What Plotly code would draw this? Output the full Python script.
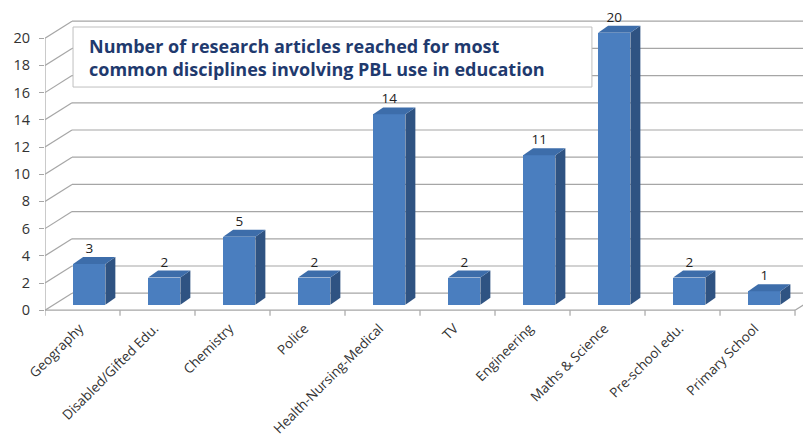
import plotly.graph_objects as go

categories = ["Geography", "Disabled/Gifted Edu.", "Chemistry", "Police",
              "Health-Nursing-Medical", "TV", "Engineering", "Maths & Science",
              "Pre-school edu.", "Primary School"]
values = [3, 2, 5, 2, 14, 2, 11, 20, 2, 1]
y_ticks = list(range(0, 21, 2))
title_lines = ["Number of research articles reached for most",
               "common disciplines involving PBL use in education"]

# 3D look parameters (style only)
BAR_OFF = 0.09      # shift of bars within category
LABEL_OFF = -0.04   # shift of category labels
BAR_W = 0.43
BASE = 0.4
DX, DY = 0.133, 0.51    # bar depth
WX, WY = 0.36, 1.25     # wall depth
XR = [-0.5, 9.713]
YR = [-0.5, 22]

FRONT = "#4A7EBF"
SIDE = "#2F5382"
TOP = "#3D6DAA"
GRID = "#A6A6A6"

cat_x = list(range(len(categories)))
xs = [i + BAR_OFF for i in cat_x]

fig = go.Figure()
fig.add_trace(go.Bar(
    x=xs, y=values, base=[BASE] * len(values), width=BAR_W,
    marker=dict(color=FRONT, line=dict(width=0)), showlegend=False,
    hoverinfo="skip"))
fig.add_trace(go.Scatter(
    x=xs, y=[v + BASE + DY + 0.05 for v in values], mode="text",
    text=[str(v) for v in values], textposition="top center",
    textfont=dict(family="Open Sans", size=13.5, color="#222"),
    showlegend=False, hoverinfo="skip", cliponaxis=False))

shapes = []
# back wall gridlines + left wall diagonals
for v in y_ticks:
    shapes.append(dict(type="line", xref="x", yref="y", x0=-0.5 + WX, x1=XR[1] + 0.5,
                       y0=v + WY, y1=v + WY, line=dict(color=GRID, width=1.2), layer="below"))
    shapes.append(dict(type="line", xref="x", yref="y", x0=-0.5, x1=-0.5 + WX,
                       y0=v, y1=v + WY, line=dict(color=GRID, width=1.2), layer="below"))
# floor front line and right diagonal
shapes.append(dict(type="line", xref="x", yref="y", x0=-0.5, x1=9.5, y0=0, y1=0,
                   line=dict(color=GRID, width=1.2), layer="below"))
shapes.append(dict(type="line", xref="x", yref="y", x0=9.5, x1=9.5 + WX, y0=0, y1=WY,
                   line=dict(color=GRID, width=1.2), layer="below"))
# left axis line
shapes.append(dict(type="line", xref="x", yref="y", x0=-0.5, x1=-0.5, y0=0, y1=y_ticks[-1],
                   line=dict(color=GRID, width=1.2), layer="below"))
# x tick marks at category boundaries
for i in range(len(categories) + 1):
    shapes.append(dict(type="line", xref="x", yref="y", x0=i - 0.5, x1=i - 0.5, y0=0, y1=-0.4,
                       line=dict(color=GRID, width=1.2), layer="below"))

# bar side and top faces
for x, v in zip(xs, values):
    xl, xr = x - BAR_W / 2, x + BAR_W / 2
    b, t = BASE, BASE + v
    side = f"M {xr},{b} L {xr + DX},{b + DY} L {xr + DX},{t + DY} L {xr},{t} Z"
    top = f"M {xl},{t} L {xl + DX},{t + DY} L {xr + DX},{t + DY} L {xr},{t} Z"
    shapes.append(dict(type="path", xref="x", yref="y", path=side,
                       fillcolor=SIDE, line=dict(width=0), layer="above"))
    shapes.append(dict(type="path", xref="x", yref="y", path=top,
                       fillcolor=TOP, line=dict(width=0), layer="above"))

# title box
shapes.append(dict(type="rect", xref="paper", yref="paper", x0=0.0366, x1=0.714,
                   y0=0.7515, y1=0.9477, fillcolor="white",
                   line=dict(color="#BFBFBF", width=1), layer="above"))

# page has an 8px body margin: compensate so the plot lands where the reference has it
fig.update_layout(
    width=803, height=431,
    margin=dict(l=37, r=0, t=3, b=122, autoexpand=False),
    paper_bgcolor="white", plot_bgcolor="white",
    shapes=shapes,
    bargap=0,
    xaxis=dict(range=XR, tickmode="array", tickvals=[i + LABEL_OFF for i in cat_x],
               ticktext=categories,
               tickangle=-45, showgrid=False, zeroline=False, showline=False,
               ticks="", ticklabelstandoff=0, automargin=False,
               tickfont=dict(family="Open Sans", size=13.5, color="#333")),
    yaxis=dict(range=YR, tickmode="array", tickvals=y_ticks, showgrid=False,
               zeroline=False, showline=False, ticks="outside", ticklen=5,
               automargin=False, ticklabelstandoff=6,
               tickcolor=GRID, tickfont=dict(family="Open Sans", size=14.5, color="#333")),
    annotations=[dict(xref="paper", yref="paper", x=0.0548, y=0.8496,
                      xanchor="left", yanchor="middle", align="left", showarrow=False,
                      text="<br>".join(f"<b>{l}</b>" for l in title_lines),
                      font=dict(family="Open Sans", size=18, color="#1F3A6E"))],
)

fig.write_html("out.html")
